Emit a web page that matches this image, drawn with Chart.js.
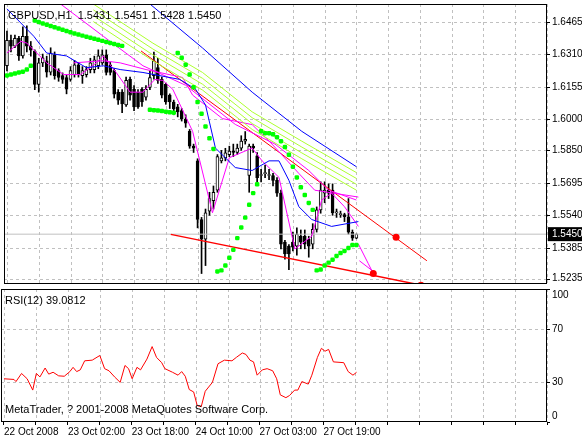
<!DOCTYPE html>
<html><head><meta charset="utf-8">
<script src="https://cdn.jsdelivr.net/npm/chart.js@4.4.0/dist/chart.umd.min.js"></script>
<style>
body{margin:0;background:#fff;width:582px;height:441px;overflow:hidden}
#top{position:absolute;left:0;top:0;width:582px;height:288px}
#bot{position:absolute;left:0;top:288px;width:582px;height:153px}
</style></head><body>
<div id="top"><canvas id="price"></canvas></div>
<div id="bot"><canvas id="rsi"></canvas></div>
<script>
// Bougies GBPUSD H1 (index de barre 0..88)
const opens = [1.6254,1.6376,1.6348,1.6385,1.6301,1.6395,1.6348,1.6324,1.6165,1.6268,
1.6278,1.6224,1.6306,1.6231,1.6207,1.6198,1.6189,1.6212,1.6259,1.6207,
1.6212,1.6236,1.6236,1.6254,1.6268,1.6306,1.6259,1.6231,1.6128,1.6128,
1.6067,1.6189,1.6142,1.6128,1.6142,1.6104,1.6151,1.6207,1.6245,1.6189,
1.6165,1.6114,1.6081,1.6058,1.6040,1.6000,1.5941,1.5870,1.5800,1.5520,
1.5426,1.5560,1.5610,1.5660,1.5800,1.5814,1.5830,1.5847,1.5840,1.5861,
1.5894,1.5730,1.5870,1.5824,1.5730,1.5739,1.5730,1.5730,1.5707,1.5646,
1.5412,1.5393,1.5412,1.5393,1.5440,1.5440,1.5426,1.5402,1.5473,1.5566,
1.5646,1.5660,1.5660,1.5552,1.5543,1.5543,1.5533,1.5459,1.5431];
const highs = [1.6420,1.6400,1.6400,1.6395,1.6440,1.6445,1.6370,1.6330,1.6290,1.6310,
1.6300,1.6340,1.6320,1.6240,1.6220,1.6210,1.6250,1.6280,1.6270,1.6250,
1.6250,1.6290,1.6300,1.6330,1.6330,1.6330,1.6270,1.6240,1.6140,1.6140,
1.6200,1.6200,1.6160,1.6140,1.6150,1.6160,1.6230,1.6320,1.6290,1.6200,
1.6170,1.6120,1.6090,1.6070,1.6050,1.6020,1.5950,1.5880,1.5810,1.5530,
1.5570,1.5650,1.5680,1.5830,1.5850,1.5860,1.5870,1.5880,1.5880,1.5920,
1.5940,1.5880,1.5880,1.5840,1.5760,1.5780,1.5760,1.5740,1.5720,1.5660,
1.5420,1.5400,1.5460,1.5480,1.5470,1.5470,1.5440,1.5500,1.5580,1.5700,
1.5700,1.5690,1.5690,1.5570,1.5560,1.5550,1.5620,1.5470,1.5451];
const lows = [1.6230,1.6320,1.6340,1.6280,1.6290,1.6320,1.6300,1.6140,1.6128,1.6250,
1.6200,1.6210,1.6190,1.6180,1.6170,1.6120,1.6180,1.6200,1.6200,1.6170,
1.6200,1.6220,1.6220,1.6240,1.6260,1.6210,1.6210,1.6100,1.6070,1.6030,
1.6060,1.6090,1.6040,1.6050,1.6060,1.6090,1.6140,1.6190,1.6170,1.6100,
1.6070,1.6050,1.6020,1.6010,1.5990,1.5960,1.5860,1.5840,1.5480,1.5262,
1.5300,1.5540,1.5570,1.5650,1.5790,1.5800,1.5820,1.5820,1.5830,1.5850,
1.5880,1.5650,1.5840,1.5700,1.5700,1.5720,1.5710,1.5680,1.5630,1.5380,
1.5330,1.5280,1.5370,1.5350,1.5380,1.5380,1.5340,1.5380,1.5460,1.5550,
1.5600,1.5620,1.5540,1.5530,1.5530,1.5510,1.5450,1.5420,1.5428];
const closes = [1.6376,1.6348,1.6385,1.6301,1.6395,1.6348,1.6329,1.6165,1.6268,1.6292,
1.6224,1.6315,1.6207,1.6198,1.6189,1.6142,1.6231,1.6259,1.6212,1.6231,
1.6236,1.6268,1.6282,1.6301,1.6306,1.6222,1.6222,1.6118,1.6090,1.6072,
1.6184,1.6114,1.6058,1.6058,1.6081,1.6142,1.6198,1.6278,1.6184,1.6114,
1.6081,1.6081,1.6048,1.6034,1.6000,1.5980,1.5870,1.5860,1.5520,1.5426,
1.5552,1.5620,1.5650,1.5820,1.5814,1.5838,1.5847,1.5840,1.5861,1.5894,
1.5903,1.5870,1.5861,1.5720,1.5730,1.5739,1.5730,1.5707,1.5646,1.5402,
1.5356,1.5356,1.5388,1.5449,1.5412,1.5402,1.5393,1.5473,1.5566,1.5660,
1.5660,1.5646,1.5552,1.5552,1.5543,1.5533,1.5459,1.5431,1.5450];

// Moyennes / enveloppes : [index de barre], [valeur]
const blueUpX = [36,49.25,61.75,74.25,88];
const blueUpY = [1.6549,1.6339,1.6128,1.5941,1.5772];
const blueLoX = [0,6.75,10,15,20,24.25,28.5,34.25,43.5,47.5,50,52.5,57.5,61.75,66,68.5,71,73.5,76.75,81.75,88.5];
const blueLoY = [1.6526,1.6395,1.6315,1.6301,1.6245,1.6254,1.6236,1.6222,1.6189,1.6142,1.6067,1.5861,1.5768,1.5754,1.5800,1.5800,1.5707,1.5581,1.5520,1.5487,1.5510];
const magFastX = [0,3.5,5,6.75,10,14.25,18.5,22.5,24.25,27.5,31,34.25,37.25,39.25,41.75,46.75,51.75,56,61.75,64.25,68.5,72.5,76.75,79.25,81.75,85,88.5];
const magFastY = [1.6315,1.6371,1.6362,1.6329,1.6268,1.6212,1.6212,1.6268,1.6301,1.6222,1.6128,1.6128,1.6189,1.6184,1.6142,1.5941,1.5552,1.5815,1.5861,1.5800,1.5721,1.5379,1.5440,1.5613,1.5646,1.5581,1.5487];
const magMidX = [16.75,24.25,28.5,35,44.25,46.75,54.25,61.75,66.75,73.5,77.5,88.5];
const magMidY = [1.6268,1.6278,1.6268,1.6236,1.6198,1.6114,1.6002,1.5973,1.5880,1.5740,1.5660,1.5627];
const magSlowX = [13.5,24.25,34.25,45,57.5,67.5,76,81,88];
const magSlowY = [1.6549,1.6395,1.6254,1.6161,1.5974,1.5880,1.5754,1.5660,1.5613];
const ygX = [21.75,36.75,49.25,61.75,74.25,88];
const ygA = [1.6549,1.6362,1.6222,1.6034,1.5894,1.5744];
const ygB = [1.6521,1.6334,1.6194,1.6006,1.5866,1.5716];
const ygC = [1.6493,1.6306,1.6166,1.5978,1.5838,1.5688];
const ygD = [1.6465,1.6278,1.6138,1.5950,1.5810,1.5660];
// Lignes de tendance
const redUpX = [33.75,105.75], redUpY = [1.6325,1.5323];
const redLoX = [41.25,105.75], redLoY = [1.5449,1.5201];
const redDotX = [98,92.25,104.25], redDotY = [1.5435,1.5262,1.5206];
const projAX = [88.5,91,92.25], projAY = [1.5403,1.5309,1.5262];
const projBX = [88.75,92.25], projBY = [1.5323,1.5272];
// Parabolic SAR
const sarX = [0,1,2,3,4,5,6,
7,8,9,10,11,12,13,14,15,16,17,18,19,20,21,22,23,24,25,26,27,28,29,
36,37,38,39,40,41,42,
43,44,45,46,47,48,49,50,51,52,
53,54,55,56,57,58,59,60,61,62,63,
64,65,66,67,68,69,70,71,72,73,74,75,76,77,
78,79,80,81,82,83,84,85,86,87,88];
const sarY = [1.6208,1.6212,1.6217,1.6222,1.6226,1.6236,1.6254,
1.6470,1.6463,1.6456,1.6450,1.6444,1.6438,1.6432,1.6426,1.6420,1.6414,1.6408,1.6403,1.6398,1.6393,1.6388,1.6383,1.6378,1.6373,1.6368,1.6363,1.6358,1.6353,1.6349,
1.6044,1.6042,1.6040,1.6038,1.6035,1.6032,1.6030,
1.6315,1.6292,1.6259,1.6212,1.6151,1.6081,1.6025,1.5964,1.5908,1.5857,
1.5272,1.5277,1.5300,1.5337,1.5375,1.5431,1.5482,1.5529,1.5590,1.5646,1.5688,
1.5941,1.5932,1.5932,1.5927,1.5913,1.5894,1.5866,1.5829,1.5772,1.5721,1.5674,1.5637,1.5599,1.5566,
1.5277,1.5281,1.5300,1.5314,1.5328,1.5346,1.5360,1.5370,1.5384,1.5398,1.5398];
const priceTicks = [1.6465,1.6310,1.6155,1.6000,1.5850,1.5695,1.5540,1.5385,1.5235];

// RSI(12)
const rsiX = [0,2.5,3,4.4,5.8,7.2,8.1,9,10.3,11.2,12.3,13.7,15.1,16.5,17.3,18.2,19.1,20.2,22.1,24,25.2,26.3,27.7,29.1,30.3,31.2,32.1,33.3,34.2,35.8,37.1,38.2,39.5,40.3,42.2,43.6,44.5,45.4,46.4,47.5,48.4,49.4,50.4,52.2,53.6,55.2,57.1,58.2,59.7,60.6,61.6,62.5,63.4,64.7,65.9,67.3,68.3,69.2,70.6,71.5,72.8,73.6,74.6,76.2,77.1,78.5,79.5,80.4,81.3,82.5,85.1,86.2,87.4,88.3];
const rsiY = [32.5,32.0,30.4,36.5,32.5,24.0,36.5,33.9,40.6,36.0,37.4,34.7,34.4,37.9,41.1,37.9,39.2,46.0,46.5,50.0,40.1,38.5,33.9,29.8,42.5,40.1,32.5,41.1,39.2,47.3,56.7,48.6,44.6,40.1,37.4,35.2,37.9,34.4,24.4,22.6,12.3,11.5,23.1,29.8,43.8,46.5,46.0,48.6,51.9,50.8,46.5,45.2,35.2,39.2,40.1,38.5,32.5,20.4,18.3,19.9,24.0,24.0,30.4,28.5,35.2,48.6,55.4,53.2,54.6,45.2,44.6,37.9,35.2,37.4];
const rsiTicks = [100,70,30,0];
const rsiGrid = [70,30];
const dateLabels = {0:'22 Oct 2008',16:'23 Oct 02:00',32:'23 Oct 18:00',48:'24 Oct 10:00',64:'27 Oct 03:00',80:'27 Oct 19:00'};

const FAM = '"Liberation Sans", Arial, sans-serif';
const FONT = {family:FAM, size:10};
Chart.defaults.font = FONT;
Chart.defaults.color = '#000';
Chart.defaults.animation = false;

const pts = (xs, ys) => xs.map((x, i) => ({x: x, y: ys[i]}));
const line = (xs, ys, color, w) => ({type:'line', data: pts(xs, ys), borderColor: color, borderWidth: w || 1,
  pointRadius: 0, tension: 0, order: 1});
const idx = closes.map((c, i) => i);

const vGrid = [];
for (let i = 0; i <= 136; i += 8) vGrid.push(i);

// grille pointillée, cadre, textes et étiquettes de l'axe de droite
const frame = {
  id: 'frame',
  beforeDatasetsDraw(chart, args, opts) {
    const a = chart.chartArea, ctx = chart.ctx, xs = chart.scales.x, ys = chart.scales.y;
    ctx.save();
    ctx.strokeStyle = '#c0c0c0'; ctx.lineWidth = 1; ctx.setLineDash([3, 3]);
    ctx.beginPath();
    vGrid.forEach(v => { const x = Math.round(xs.getPixelForValue(v)) + 0.5;
      if (x > a.left + 2) { ctx.moveTo(x, a.top); ctx.lineTo(x, a.bottom); } });
    (opts.grid || []).forEach(v => { const y = Math.round(ys.getPixelForValue(v)) + 0.5;
      ctx.moveTo(a.left, y); ctx.lineTo(a.right, y); });
    ctx.stroke();
    ctx.restore();
  },
  afterDraw(chart, args, opts) {
    const a = chart.chartArea, ctx = chart.ctx, ys = chart.scales.y;
    ctx.save();
    ctx.strokeStyle = '#000'; ctx.lineWidth = 1;
    ctx.strokeRect(a.left + 0.5, a.top + 0.5, a.right - a.left - 1, a.bottom - a.top - 1);
    ctx.fillStyle = '#000'; ctx.textBaseline = 'middle';
    ctx.font = '11px ' + FAM;
    (opts.texts || []).forEach(t => ctx.fillText(t[0], a.left + t[1], a.top + t[2]));
    ctx.font = '10px ' + FAM;
    (opts.ticks || []).forEach(v => {
      const y = Math.round(ys.getPixelForValue(v)) + 0.5;
      ctx.beginPath(); ctx.moveTo(a.right, y); ctx.lineTo(a.right + 3, y); ctx.stroke();
      ctx.fillText(opts.fmt(v), a.right + 5, Math.min(Math.max(y, a.top + 6), a.bottom - 6));
    });
    if (opts.lastPrice) {
      const y = ys.getPixelForValue(opts.lastPrice);
      ctx.fillStyle = '#000';
      ctx.fillRect(a.right + 1, y - 7, 35, 14);
      ctx.fillStyle = '#fff';
      ctx.fillText(opts.lastPrice.toFixed(4), a.right + 5, y + 0.5);
    }
    ctx.restore();
  }
};

new Chart(document.getElementById('price'), {
  type: 'bar',
  data: {
    datasets: [
      line(blueUpX, blueUpY, '#0000ff'),
      line(blueLoX, blueLoY, '#0000ff'),
      line(ygX, ygA, '#adff2f'), line(ygX, ygB, '#adff2f'), line(ygX, ygC, '#adff2f'), line(ygX, ygD, '#adff2f'),
      line(magSlowX, magSlowY, '#ff00ff'),
      line(magMidX, magMidY, '#ff00ff'),
      line(magFastX, magFastY, '#ff00ff'),
      line(projAX, projAY, '#ff00ff'),
      line(projBX, projBY, '#ff00ff'),
      line(redUpX, redUpY, '#ff0000'),
      line(redLoX, redLoY, '#ff0000', 1.5),
      line([-0.75, 136], [closes[88], closes[88]], '#c0c0c0'),
      {type:'line', data: pts(redDotX, redDotY), showLine:false, pointRadius:3.5, pointBackgroundColor:'#ff0000',
        pointBorderWidth:0, order:0},
      {type:'line', data: pts(sarX, sarY), showLine:false, pointStyle:'rectRounded', pointRadius:2.6,
        pointBackgroundColor:'#00ff00', pointBorderWidth:0, order:0},
      {data: idx.map(i => ({x:i, y:[opens[i], closes[i]]})), grouped:false, barThickness:3, minBarLength:1,
        backgroundColor: idx.map(i => closes[i] >= opens[i] ? '#fff' : '#000'), borderColor:'#000',
        borderWidth:1, borderSkipped:false, order:10},
      {data: idx.map(i => ({x:i, y:[lows[i], highs[i]]})), grouped:false, barThickness:1,
        backgroundColor:'#000', order:11}
    ]
  },
  options: {
    responsive:true, maintainAspectRatio:false,
    layout:{padding:{left:1, top:0, bottom:1, right:35}},
    plugins:{legend:{display:false}, tooltip:{enabled:false},
      frame:{texts:[['GBPUSD,H1  1.5431 1.5451 1.5428 1.5450', 4, 12]], lastPrice: closes[88],
        ticks: priceTicks, grid: priceTicks, fmt: v => v.toFixed(4)}},
    scales:{
      x:{type:'linear', min:-0.75, max:136, offset:false, display:false},
      y:{min:1.5212, max:1.6549, display:false}
    }
  },
  plugins:[frame]
});

new Chart(document.getElementById('rsi'), {
  type: 'line',
  data: {datasets:[{data: pts(rsiX, rsiY), borderColor:'#ff0000', borderWidth:1, pointRadius:0, tension:0}]},
  options: {
    responsive:true, maintainAspectRatio:false,
    layout:{padding:{left:1, top:1, bottom:0, right:35}},
    plugins:{legend:{display:false}, tooltip:{enabled:false},
      frame:{texts:[['RSI(12) 39.0812', 4, 12], ['MetaTrader, ? 2001-2008 MetaQuotes Software Corp.', 4, 121]],
        ticks: rsiTicks, grid: rsiGrid, fmt: v => String(v)}},
    scales:{
      x:{type:'linear', min:-0.75, max:136,
        afterBuildTicks: s => { s.ticks = vGrid.map(v => ({value:v})); },
        afterFit: s => { s.height = 19; },
        ticks:{autoSkip:false, maxRotation:0, align:'start', padding:1, font:FONT,
          callback: v => dateLabels[v] || ''},
        grid:{drawOnChartArea:false, tickColor:'#000', tickLength:3}, border:{display:false}},
      y:{min:0, max:100, display:false}
    }
  },
  plugins:[frame]
});
</script>
</body></html>
